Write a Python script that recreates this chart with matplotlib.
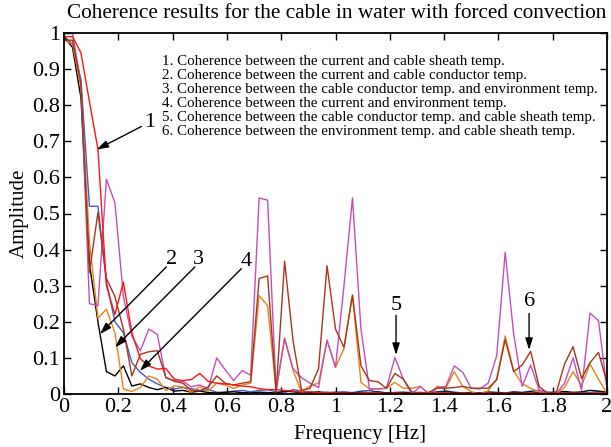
import matplotlib
matplotlib.use("Agg")
import matplotlib.pyplot as plt
import numpy as np

plt.rcParams['font.family'] = ['Liberation Serif', 'DejaVu Serif']
plt.rcParams['mathtext.fontset'] = 'stix'

freq_step = 1 / 32
n_points = 65

series_labels = [
    "1. Coherence between the current and cable sheath temp.",
    "2. Coherence between the current and cable conductor temp.",
    "3. Coherence between the cable conductor temp. and environment temp.",
    "4. Coherence between the current and environment temp.",
    "5. Coherence between the cable conductor temp. and cable sheath temp.",
    "6. Coherence between the environment temp. and cable sheath temp.",
]

s1_red = [0.99, 0.99, 0.945, 0.81, 0.678, 0.30, 0.22, 0.31, 0.17, 0.097,
          0.078, 0.069, 0.071, 0.041, 0.037, 0.04, 0.057, 0.035, 0.03, 0.028,
          0.025, 0.022, 0.02, 0.015, 0.012, 0.012, 0.01, 0.008, 0.005, 0.006,
          0.004,
          0.004, 0.003, 0.003, 0.002, 0.003, 0.004, 0.003, 0.002, 0.003, 0.002,
          0.002, 0.003, 0.002, 0.004, 0.003, 0.002, 0.003, 0.002, 0.002, 0.003,
          0.002, 0.003, 0.002, 0.002, 0.003, 0.002, 0.002, 0.003, 0.002, 0.003,
          0.002, 0.002, 0.003, 0.002]

s2_black = [0.99, 0.96, 0.82, 0.36, 0.20, 0.062, 0.05, 0.078, 0.022, 0.028,
            0.018, 0.012, 0.018, 0.008, 0.01, 0.005, 0.008, 0.004, 0.003, 0.005,
            0.006, 0.004, 0.003, 0.005, 0.004, 0.003, 0.008, 0.006, 0.003,
            0.004, 0.006, 0.003, 0.005, 0.004, 0.003, 0.005, 0.004, 0.006, 0.003,
            0.004, 0.005, 0.003, 0.004, 0.003, 0.005, 0.006, 0.004, 0.003, 0.004,
            0.003, 0.005, 0.004, 0.003, 0.005, 0.004, 0.006, 0.003, 0.004, 0.005,
            0.007, 0.004, 0.006, 0.01, 0.008, 0.005]

s3_orange = [0.98, 0.97, 0.85, 0.42, 0.21, 0.235, 0.17, 0.014, 0.007, 0.018,
             0.05, 0.041, 0.009, 0.023, 0.02, 0.005, 0.02, 0.008, 0.03, 0.025,
             0.015, 0.025, 0.03, 0.273, 0.244, 0.01, 0.152, 0.065, 0.005, 0.023,
             0.03, 0.149, 0.074, 0.126, 0.274, 0.032, 0.014, 0.014, 0.016, 0.032,
             0.016, 0.016, 0.021, 0.0, 0.021, 0.016, 0.062, 0.021, 0.006, 0.0,
             0.009, 0.041, 0.161, 0.064, 0.028, 0.016, 0.006, 0.002, 0.0, 0.018,
             0.062, 0.023, 0.083, 0.041, 0.002]

s4_blue = [0.99, 0.97, 0.87, 0.52, 0.52, 0.31, 0.2, 0.17, 0.087, 0.06,
           0.041, 0.028, 0.018, 0.014, 0.018, 0.015, 0.01, 0.012, 0.005, 0.004,
           0.008, 0.01, 0.006, 0.01, 0.012, 0.006, 0.004, 0.012, 0.008, 0.004,
           0.003, 0.005, 0.003, 0.006, 0.004, 0.008, 0.01, 0.005, 0.003,
           0.004, 0.003, 0.005, 0.004, 0.003, 0.006, 0.009, 0.005, 0.003, 0.004,
           0.003, 0.005, 0.004, 0.003, 0.006, 0.004, 0.008, 0.01, 0.005, 0.003,
           0.004, 0.005, 0.003, 0.004, 0.006, 0.003]

s5_magenta = [1.0, 1.0, 0.86, 0.25, 0.245, 0.595, 0.53, 0.27, 0.16, 0.12,
              0.18, 0.165, 0.045, 0.037, 0.035, 0.02, 0.025, 0.015, 0.1, 0.067,
              0.037, 0.065, 0.052, 0.543, 0.537, 0.01, 0.155, 0.07, 0.045, 0.03,
              0.018, 0.149, 0.074, 0.30, 0.543, 0.18, 0.014, 0.014, 0.016, 0.101,
              0.041, 0.0, 0.021, 0.0, 0.018, 0.021, 0.078, 0.06, 0.016, 0.014,
              0.03, 0.106, 0.393, 0.166, 0.021, 0.08, 0.012, 0.0, 0.0, 0.03,
              0.1, 0.01, 0.224, 0.203, 0.014]

s6_brown = [0.98, 0.98, 0.86, 0.337, 0.503, 0.32, 0.27, 0.18, 0.05, 0.11,
            0.117, 0.12, 0.046, 0.035, 0.03, 0.01, 0.008, 0.02, 0.05, 0.03,
            0.025, 0.03, 0.034, 0.32, 0.327, 0.005, 0.368, 0.147, 0.01, 0.016,
            0.07, 0.355, 0.18, 0.129, 0.274, 0.078, 0.037, 0.034, 0.016, 0.057,
            0.041, 0.005, 0.002, 0.005, 0.016, 0.016, 0.018, 0.021, 0.016, 0.016,
            0.016, 0.04, 0.15, 0.062, 0.08, 0.118, 0.021, 0.002, 0.002, 0.083,
            0.131, 0.043, 0.087, 0.115, 0.032]

x_ticks = [0, 0.2, 0.4, 0.6, 0.8, 1, 1.2, 1.4, 1.6, 1.8, 2]
x_tick_labels = ["0", "0.2", "0.4", "0.6", "0.8", "1", "1.2", "1.4", "1.6", "1.8", "2"]
y_ticks = [0, 0.1, 0.2, 0.3, 0.4, 0.5, 0.6, 0.7, 0.8, 0.9, 1]
y_tick_labels = ["0", "0.1", "0.2", "0.3", "0.4", "0.5", "0.6", "0.7", "0.8", "0.9", "1"]

# annotation label, text position, arrow tail, arrow tip (data coords)
ann_labels = ["1", "2", "3", "4", "5", "6"]
ann_text = [(0.316, 0.751), (0.396, 0.373), (0.497, 0.373), (0.672, 0.368), (1.223, 0.246), (1.713, 0.255)]
ann_tail = [(0.285, 0.741), (0.377, 0.352), (0.482, 0.352), (0.653, 0.347), (1.223, 0.218), (1.713, 0.223)]
ann_tip = [(0.12, 0.677), (0.132, 0.166), (0.1875, 0.129), (0.279, 0.064), (1.223, 0.108), (1.713, 0.122)]

freqs = np.arange(n_points) * freq_step

fig = plt.figure(figsize=(6.11, 4.47), dpi=100)
ax = fig.add_axes([64 / 611, 1 - 394 / 447, (607 - 64) / 611, (394 - 33) / 447])

series = [
    (s4_blue, '#3b5fc8'),
    (s2_black, '#000000'),
    (s3_orange, '#e8821c'),
    (s5_magenta, '#c24fb6'),
    (s6_brown, '#a5361c'),
    (s1_red, '#ff1414'),
]
for vals, col in series:
    ax.plot(freqs, vals, color=col, lw=1.0)

ax.set_xlim(0, 2)
ax.set_ylim(0, 1)
ax.set_xticks(x_ticks)
ax.set_xticklabels(x_tick_labels)
ax.set_yticks(y_ticks)
ax.set_yticklabels(y_tick_labels)
ax.tick_params(direction='in', length=5, width=1, top=True, right=True,
               labelsize=16, pad=3)
for sp in ax.spines.values():
    sp.set_linewidth(1.3)

fig.text(360 / 611, 1 - 434 / 447, "Frequency [Hz]", fontsize=15,
         ha='center', va='center')
ax.set_ylabel("Amplitude", fontsize=15, labelpad=2)
fig.text(337 / 611, 1 - 13 / 447,
         "Coherence results for the cable in water with forced convection",
         ha='center', va='center', fontsize=15.3)

leg_y = [0.92, 0.881, 0.843, 0.804, 0.765, 0.727]
for lbl, yy in zip(series_labels, leg_y):
    ax.text(0.36, yy, lbl, fontsize=10.8, ha='left', va='center')

for lbl, tpos, tail, tip in zip(ann_labels, ann_text, ann_tail, ann_tip):
    ax.text(tpos[0], tpos[1], lbl, fontsize=16, ha='center', va='center')
    ax.annotate('', xy=tip, xytext=tail,
                arrowprops=dict(arrowstyle='-|>,head_length=0.7,head_width=0.22',
                                color='k', lw=1.0, shrinkA=0, shrinkB=0))

fig.savefig("out.png", dpi=100)
